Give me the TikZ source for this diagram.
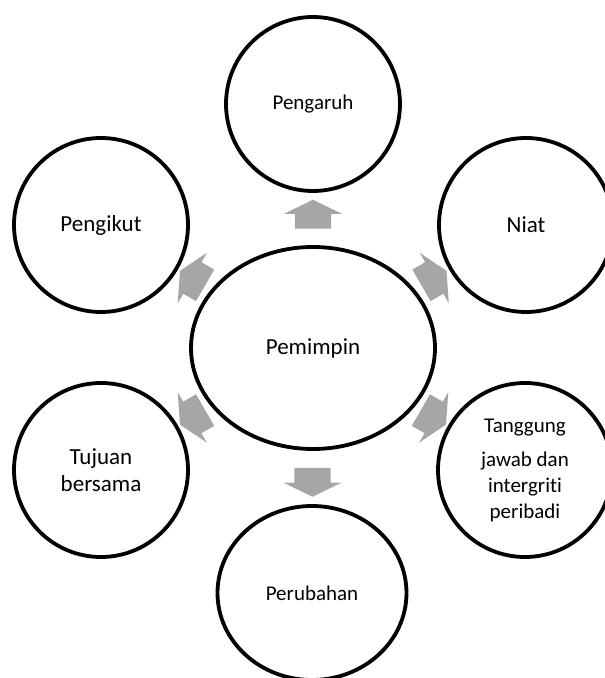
\documentclass[tikz,border=0pt]{standalone}
\usepackage{fontspec}
\setmainfont{Carlito}[Ligatures=NoCommon]
\usepackage{tikz}
\usetikzlibrary{positioning, shapes.geometric, shapes.arrows, calc}
\definecolor{arrowgray}{gray}{0.65}
\newcommand{\bigtxt}{\fontsize{23}{27}\selectfont}
\newcommand{\smalltxt}{\fontsize{21}{26}\selectfont}

\begin{document}
\begin{tikzpicture}[
    x=1pt, y=1pt,
    every node/.style={align=center},
    hub/.style  ={ellipse, draw=black, line width=3.8pt, fill=white, minimum width=244pt, minimum height=202pt, font=\bigtxt},
    spoke/.style={ellipse, draw=black, line width=3.8pt, fill=white, minimum width=174pt, minimum height=174pt, font=\bigtxt},
    radarrow/.style={single arrow, fill=arrowgray, draw=none, inner xsep=0pt, inner ysep=18pt,
        minimum width=58pt, minimum height=29pt,
        single arrow head extend=11pt, single arrow tip angle=128}
]
\useasboundingbox (0,0) rectangle (605,678);

% centre
\node[hub] (pemimpin) at (313,330) {Pemimpin};

% outer ring
\node[spoke, font=\smalltxt] (pengaruh)  at (313,574) {Pengaruh};
\node[spoke] (niat)     at (526,453) {Niat};
\node[spoke, font=\smalltxt] (tanggung) at (525,208)
  {Tanggung\\[8pt]jawab dan\\intergriti\\peribadi};
\node[spoke, font=\smalltxt, minimum width=189pt] (perubahan) at (312,85) {Perubahan};
\node[spoke] (tujuan)   at (101,208) {Tujuan\\bersama};
\node[spoke] (pengikut) at (101,453) {Pengikut};

% arrows
\node[radarrow, rotate=90]  (a1) at ($(pemimpin)!0.53!(pengaruh)$) {};
\node[radarrow, rotate=30]  (a2) at ($(pemimpin)!0.55!(niat)$) {};
\node[radarrow, rotate=-30] (a3) at ($(pemimpin)!0.55!(tanggung)$) {};
\node[radarrow, rotate=-90] (a4) at ($(pemimpin)!0.53!(perubahan)$) {};
\node[radarrow, rotate=210] (a5) at ($(pemimpin)!0.55!(tujuan)$) {};
\node[radarrow, rotate=150] (a6) at ($(pemimpin)!0.55!(pengikut)$) {};

\end{tikzpicture}
\end{document}
